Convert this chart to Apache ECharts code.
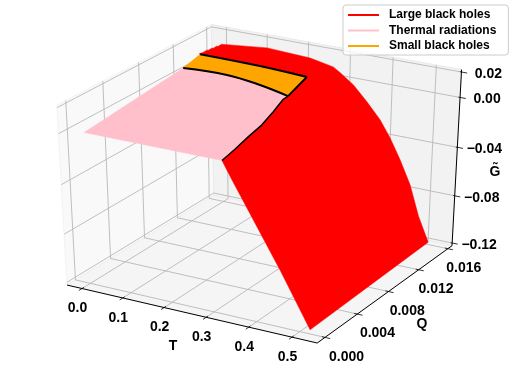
<!DOCTYPE html>
<html>
<head>
<meta charset="utf-8">
<title>G surface</title>
<style>
html, body { margin: 0; padding: 0; background: #fff; }
#chart { width: 512px; height: 367px; }
</style>
<script src="https://cdn.jsdelivr.net/npm/echarts@6/dist/echarts.min.js"></script>
</head>
<body>
<div id="chart"></div>
<script>
// axis limits and ticks
const tLim = [-0.0371, 0.5577];
const qLim = [-0.00094, 0.01658];
const gLim = [-0.1223, 0.0219];
const tTicks = [0, 0.1, 0.2, 0.3, 0.4, 0.5];
const qTicks = [0, 0.004, 0.008, 0.012, 0.016];
const gTicks = [-0.12, -0.08, -0.04, 0, 0.02];

// values
const qFront = 0;
const qFar = 0.0152;
const qLower = 0.0112;
const qUpper = 0.01323;
const frontT = [0.3226, 0.3449, 0.4537, 0.5235];
const frontG = [0, -0.0134, -0.076, -0.1189];
const farT = [0.5235, 0.4978, 0.4749, 0.4491, 0.4239, 0.3989, 0.3664, 0.3338, 0.3019, 0.2851, 0.2301, 0.1269, 0.0212];
const farG = [-0.1158, -0.0956, -0.0711, -0.0522, -0.0361, -0.023, -0.0104, 0.0009, 0.0087, 0.0122, 0.0159, 0.0177, 0.0141];
// stepped edge of the red sheet at low T
const stepT = [0.0212, 0.0155, 0.0155, 0.0115, 0.0115, 0.0075, 0.0075, 0.0035, 0.0035, 0];
const stepQ = [0.0152, 0.0152, 0.0148, 0.0148, 0.0144, 0.0144, 0.014, 0.014, 0.0136, 0.01323];
const stepG = [0.0141, 0.0139, 0.0137, 0.0135, 0.0133, 0.0131, 0.0129, 0.0127, 0.0125, 0.0122];
// seam between the pink and red sheets
const seamT = [0.3226, 0.3137, 0.301, 0.2911, 0.2734, 0.2551, 0.2546];
const seamQ = [0, 0.00191, 0.0041, 0.00615, 0.00844, 0.01059, 0.0112];
const seamG = [0, 0.0003, 0.0005, 0.0008, 0.0013, 0.0017, 0.0019];
const lowerT = [0.003, 0.109, 0.188, 0.2546];
const lowerG = [0.0084, 0.0095, 0.0065, 0.0019];
const upperT = [0.003, 0.148, 0.26];
const upperG = [0.0122, 0.0116, 0.0098];
const originT = 0.003;

const FONT = '"Liberation Sans", Arial, sans-serif';

// same camera as a default mplot3d view (elev 30, azim -60, dist 10)
function project(T, Q, G) {
    const a = (T - tLim[0]) / (tLim[1] - tLim[0]) - 0.5;
    const b = (Q - qLim[0]) / (qLim[1] - qLim[0]) - 0.5;
    const c = (G - gLim[0]) / (gLim[1] - gLim[0]) - 0.5;
    const ux = 0.8660 * a + 0.5 * b;
    const vy = -0.25 * a + 0.4330 * b + 0.8660 * c;
    const d = 10 - (0.4330 * a - 0.75 * b + 0.5 * c);
    return [262.5 + 2888 * ux / d, 178.3 - 2054 * vy / d];
}

function zip(ts, qs, gs) {
    return ts.map((t, i) => [t, Array.isArray(qs) ? qs[i] : qs, gs[i]]);
}

// draws one whole shape as a single custom item
function shapeSeries(name, build, color) {
    return {
        type: 'custom',
        name: name,
        coordinateSystem: 'cartesian2d',
        silent: true,
        animation: false,
        clip: false,
        itemStyle: color ? { color: color } : undefined,
        data: [0],
        renderItem: function (params, api) {
            const toPx = p => api.coord(project(p[0], p[1], p[2]));
            return { type: 'group', children: build(toPx) };
        }
    };
}

function polygon(toPx, pts, fill, stroke) {
    return {
        type: 'polygon',
        shape: { points: pts.map(toPx) },
        style: { fill: fill, stroke: stroke || fill, lineWidth: stroke ? 1 : 0.5 }
    };
}

function polyline(toPx, pts, color, width, smooth) {
    return {
        type: 'polyline',
        shape: { points: pts.map(toPx), smooth: smooth || 0 },
        style: { fill: null, stroke: color, lineWidth: width, lineJoin: 'round' }
    };
}

function label(pos, dx, dy, text, size) {
    return {
        type: 'text',
        style: {
            x: pos[0] + dx, y: pos[1] + dy, text: text,
            fill: '#000', textAlign: 'center', textVerticalAlign: 'middle',
            font: 'bold ' + (size || 14) + 'px ' + FONT
        }
    };
}

const [t0, t1] = tLim;
const [q0, q1] = qLim;
const [g0, g1] = gLim;

function boxParts(toPx) {
    const parts = [
        polygon(toPx, [[t0, q0, g0], [t0, q1, g0], [t0, q1, g1], [t0, q0, g1]], '#f9f9f9', '#f3f3f3'),
        polygon(toPx, [[t0, q1, g0], [t1, q1, g0], [t1, q1, g1], [t0, q1, g1]], '#f2f2f2', '#ebebeb'),
        polygon(toPx, [[t0, q0, g0], [t1, q0, g0], [t1, q1, g0], [t0, q1, g0]], '#f5f5f5', '#efefef')
    ];
    const grid = '#b8b8b8';
    tTicks.forEach(t => parts.push(polyline(toPx, [[t, q0, g0], [t, q1, g0], [t, q1, g1]], grid, 0.9)));
    qTicks.forEach(q => parts.push(polyline(toPx, [[t1, q, g0], [t0, q, g0], [t0, q, g1]], grid, 0.9)));
    gTicks.forEach(g => parts.push(polyline(toPx, [[t0, q0, g], [t0, q1, g], [t1, q1, g]], grid, 0.9)));
    return parts;
}

function axisParts(toPx) {
    const parts = [
        polyline(toPx, [[t0, q0, g0], [t1, q0, g0], [t1, q1, g0], [t1, q1, g1]], '#000', 1)
    ];
    const dq = q1 - q0, dt = t1 - t0;
    tTicks.forEach(t => {
        parts.push(polyline(toPx, [[t, q0 + 0.012 * dq, g0], [t, q0 - 0.02 * dq, g0]], '#000', 0.8));
        parts.push(label(toPx([t, q0, g0]), -4.5, 20, t.toFixed(1)));
    });
    qTicks.forEach((q, i) => {
        parts.push(polyline(toPx, [[t1 - 0.012 * dt, q, g0], [t1 + 0.02 * dt, q, g0]], '#000', 0.8));
        parts.push(label(toPx([t1, q, g0]), 21.5 - 1.4 * i, 19.5, q.toFixed(3)));
    });
    gTicks.forEach(g => {
        parts.push(polyline(toPx, [[t1 - 0.006 * dt, q1, g], [t1 + 0.022 * dt, q1, g]], '#000', 0.8));
        parts.push(label(toPx([t1, q1, g]), 27, 2, g.toFixed(2).replace('-', '\u2212')));
    });
    parts.push(label([173, 346], 0, 0, 'T'));
    parts.push(label([422, 324], 0, 0, 'Q'));
    parts.push(label([495, 172], 0, 0, 'G\u0303'));
    return parts;
}

const frontEdge = zip(frontT, qFront, frontG);
const farEdge = zip(farT, qFar, farG);
const stepEdge = zip(stepT, stepQ, stepG);
const seam = zip(seamT, seamQ, seamG);
const lowerEdge = zip(lowerT, qLower, lowerG);
const upperEdge = zip(upperT, qUpper, upperG);

const redSheet = frontEdge.concat(farEdge, stepEdge, upperEdge.slice().reverse().slice(0, 1), seam.slice().reverse());
const pinkSheet = [[originT, qFront, 0]].concat(lowerEdge, seam.slice().reverse());
const orangeSheet = lowerEdge.concat(upperEdge.slice().reverse());
const rightEnd = [lowerEdge[lowerEdge.length - 1], upperEdge[upperEdge.length - 1]];

const legendNames = ['Large black holes', 'Thermal radiations', 'Small black holes'];

const chart = echarts.init(document.getElementById('chart'), null, { renderer: 'canvas' });
chart.setOption({
    animation: false,
    backgroundColor: '#fff',
    grid: { left: 0, right: 0, top: 0, bottom: 0 },
    xAxis: { type: 'value', min: 0, max: 512, show: false },
    yAxis: { type: 'value', min: 0, max: 367, inverse: true, show: false },
    legend: {
        data: legendNames,
        orient: 'vertical',
        left: 343,
        top: 5,
        width: 164,
        padding: [4, 12, 3, 5],
        itemWidth: 31,
        itemHeight: 2,
        itemGap: 3.5,
        icon: 'rect',
        selectedMode: false,
        backgroundColor: 'rgba(255,255,255,0.8)',
        borderColor: '#ccc',
        borderWidth: 1,
        borderRadius: 3,
        textStyle: { fontFamily: FONT, fontWeight: 'bold', fontSize: 12, color: '#000', padding: [0, 0, 0, 5] }
    },
    series: [
        shapeSeries('box', boxParts),
        shapeSeries('axes', axisParts),
        shapeSeries(legendNames[0], toPx => [polygon(toPx, redSheet, '#ff0000')], '#ff0000'),
        shapeSeries(legendNames[1], toPx => [polygon(toPx, pinkSheet, '#ffc0cb')], '#ffc0cb'),
        shapeSeries(legendNames[2], toPx => [
            polygon(toPx, orangeSheet, '#ffa500'),
            polyline(toPx, seam, '#000', 1.5),
            polyline(toPx, lowerEdge, '#000', 2, 0.4),
            polyline(toPx, upperEdge, '#000', 2, 0.4),
            polyline(toPx, rightEnd, '#000', 2)
        ], '#ffa500')
    ]
});
window.onresize = chart.resize;
</script>
</body>
</html>
